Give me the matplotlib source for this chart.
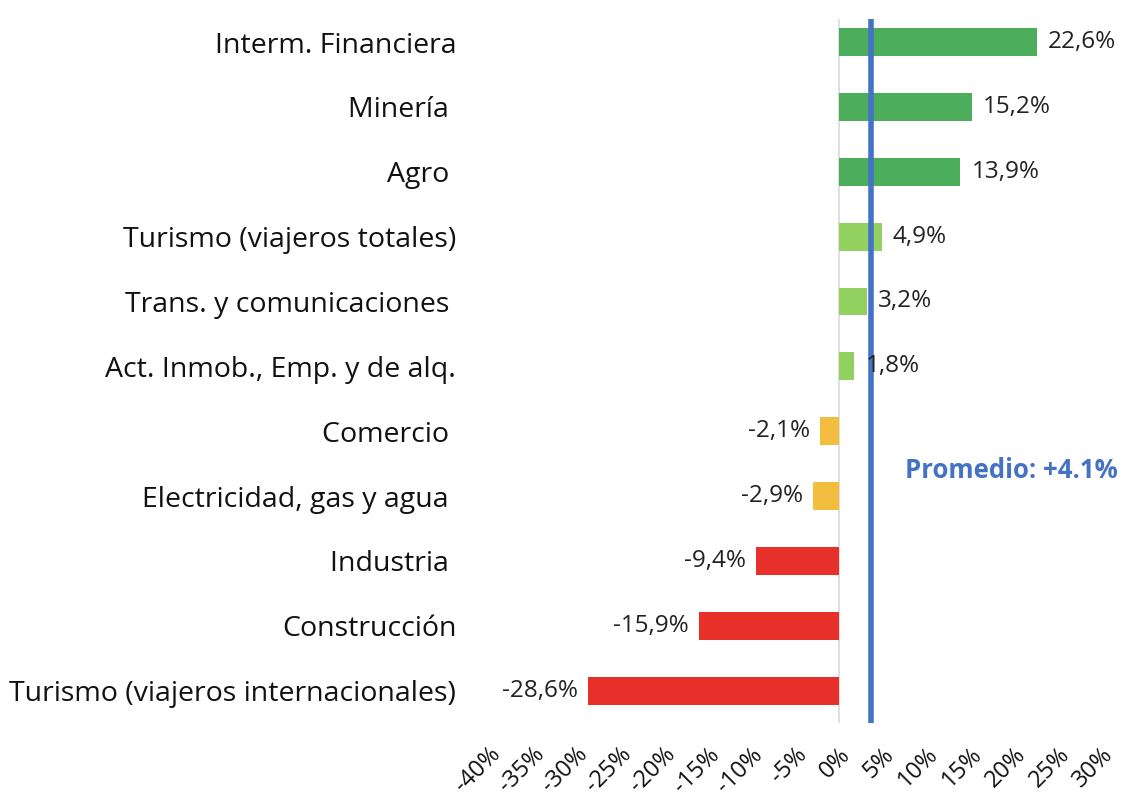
import matplotlib.pyplot as plt
from matplotlib.ticker import FuncFormatter
from matplotlib.transforms import ScaledTranslation

plt.rcParams['font.family'] = ['Open Sans', 'DejaVu Sans']

sectores = ['Interm. Financiera', 'Minería ', 'Agro ', 'Turismo (viajeros totales)',
            'Trans. y comunicaciones ', 'Act. Inmob., Emp. y de alq.', 'Comercio ',
            'Electricidad, gas y agua ', 'Industria ', 'Construcción',
            'Turismo (viajeros internacionales)']
variacion = [22.6, 15.2, 13.9, 4.9, 3.2, 1.8, -2.1, -2.9, -9.4, -15.9, -28.6]
colores = ['#4CAD5B', '#4CAD5B', '#4CAD5B', '#92D060', '#92D060', '#92D060',
           '#F3BD40', '#F3BD40', '#E8302A', '#E8302A', '#E8302A']
promedio = 3.7
ticks = list(range(-40, 31, 5))

fig = plt.figure(figsize=(11.25, 7.99), dpi=100)
ax = fig.add_axes([0.434, 0.095, 0.545, 0.893])

y = list(range(len(sectores)))
ax.barh(y, variacion, height=0.43, color=colores, zorder=2)
ax.axvline(0, color='#D9D9D9', lw=1.2, ymin=0.0, ymax=0.985, zorder=1)
ax.plot([promedio, promedio], [10.5, -0.35], color='#4472C4', lw=4, zorder=3,
        solid_capstyle='butt')

for yi, v in zip(y, variacion):
    txt = f'{v:.1f}%'.replace('.', ',')
    if v >= 0:
        ax.text(v + 1.3, yi, txt, va='center', ha='left', fontsize=17.5, color='#222222', zorder=4)
    else:
        ax.text(v - 1.2, yi, txt, va='center', ha='right', fontsize=17.5, color='#222222', zorder=4)

ax.text(7.6, 6.6, 'Promedio: +4.1%', color='#4472C4', fontsize=18.5,
        fontweight='bold', va='center', ha='left')

ax.set_xlim(-40, 30)
ax.set_ylim(10.5, -0.5)
ax.set_yticks(y)
ax.set_yticklabels(sectores, fontsize=20.5, color='#111111')
ax.set_xticks(ticks)
ax.xaxis.set_major_formatter(FuncFormatter(lambda v, p: f'{v:.0f}%'))
shift = ScaledTranslation(6 / 100, 0, fig.dpi_scale_trans)
for lbl in ax.get_xticklabels():
    lbl.set_rotation(45)
    lbl.set_ha('right')
    lbl.set_rotation_mode('anchor')
    lbl.set_fontsize(17)
    lbl.set_color('#111111')
    lbl.set_transform(lbl.get_transform() + shift)
ax.tick_params(axis='both', length=0)
ax.tick_params(axis='y', pad=23)
ax.tick_params(axis='x', pad=14)
for s in ax.spines.values():
    s.set_visible(False)

fig.savefig('out.png', dpi=100)
